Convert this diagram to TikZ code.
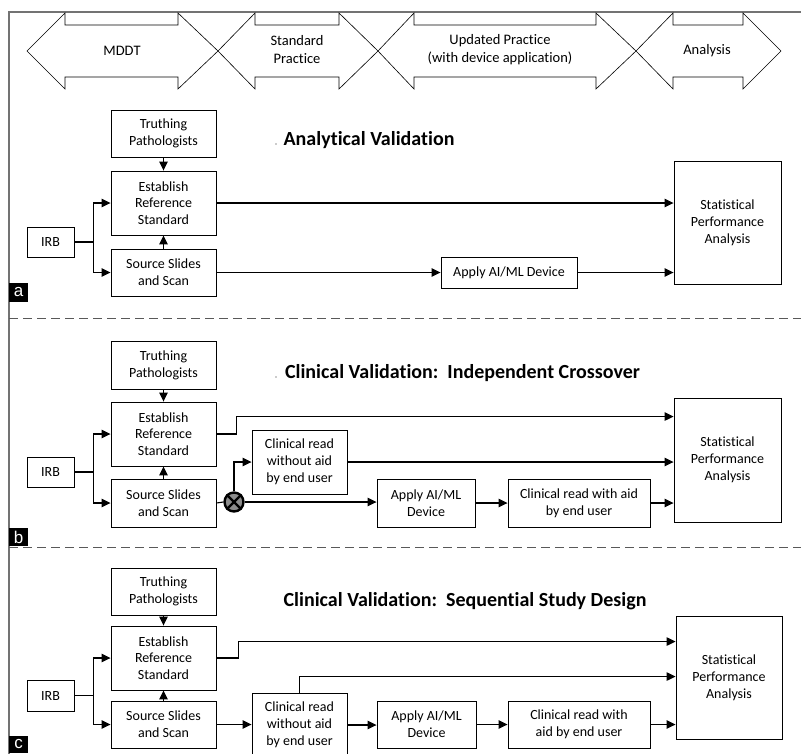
\documentclass[tikz,border=0pt]{standalone}
\usepackage{fontspec}
\setmainfont{Carlito}[Ligatures={NoCommon}]
\newfontfamily\labfont{Liberation Sans}
\usetikzlibrary{arrows.meta,calc}
\begin{document}
\begin{tikzpicture}[x=1pt,y=-1pt,
  bx/.style={draw,line width=0.9pt,align=center,inner sep=0pt,font=\fontsize{14}{16.8}\selectfont},
  arr/.style={line width=1.1pt,-{Triangle[length=9pt,width=8.5pt]}},
  ln/.style={line width=1.1pt},
  bigarrow/.style={draw,line width=0.6pt},
  toptxt/.style={align=center,font=\fontsize{14.5}{18}\selectfont},
  ttl/.style={font=\fontsize{20}{24}\selectfont\bfseries},
  lab/.style={fill=black,text=white,inner sep=0pt,minimum width=19pt,minimum height=19pt,font=\labfont\fontsize{17}{17}\selectfont},
  sep/.style={draw=black!65,line width=1.5pt,dash pattern=on 9pt off 5pt},
  frame/.style={draw=black!55,line width=1.2pt}
]
\useasboundingbox (0,0) rectangle (801,753);
\clip (0,0) rectangle (801,753);
\fill[white] (0,0) rectangle (801,753);
% frame
\draw[frame] (801,12) -- (9,12) -- (9,760);
% top arrows
\draw[bigarrow] (27,51) -- (65,13) -- (65,25) -- (178,25) -- (178,13) -- (218,51) -- (178,89) -- (178,77) -- (65,77) -- (65,89) -- cycle;
\draw[bigarrow] (218,51) -- (255,13) -- (255,25) -- (339,25) -- (339,13) -- (378,51) -- (339,89) -- (339,77) -- (255,77) -- (255,89) -- cycle;
\draw[bigarrow] (378,51) -- (414,13) -- (414,25) -- (596,25) -- (596,13) -- (636,51) -- (596,89) -- (596,77) -- (414,77) -- (414,89) -- cycle;
\draw[bigarrow] (636,51) -- (673,13) -- (673,25) -- (743,25) -- (743,13) -- (781,51) -- (743,89) -- (743,77) -- (673,77) -- (673,89) -- cycle;
\node[toptxt] (tMDDT) at (122,51) {MDDT};
\node[toptxt] (tStd) at (297,50) {Standard\\Practice};
\node[toptxt] (tUpd) at (500,50) {Updated Practice\\(with device application)};
\node[toptxt] (tAna) at (707,51) {Analysis};

% ================= panel a
\node[ttl] (ttlA) at (369,140) {Analytical Validation};
\fill[black!40] (276,144) circle (0.8);
\node[bx,minimum width=105pt,minimum height=47pt] (tpA) at (163.5,133.5) {Truthing\\Pathologists};
\node[bx,minimum width=105pt,minimum height=64pt] (esA) at (163.5,203) {Establish\\Reference\\Standard};
\node[bx,minimum width=105pt,minimum height=47pt] (ssA) at (163.5,272.5) {Source Slides\\and Scan};
\node[bx,minimum width=47pt,minimum height=30pt] (irbA) at (50.5,242) {IRB};
\node[bx,minimum width=136pt,minimum height=31pt] (apA) at (509,272.5) {Apply AI/ML Device};
\node[bx,minimum width=107pt,minimum height=123pt] (stA) at (727.5,222.5) {Statistical\\Performance\\Analysis};
\draw[arr] (tpA.south) -- (esA.north);
\draw[arr] (ssA.north) -- (esA.south);
\draw[arr] (irbA.east) -- ++(19,0) |- (esA.west);
\draw[arr] (irbA.east) -- ++(19,0) |- (ssA.west);
\draw[arr] (esA.east) -- (esA.east -| stA.west);
\draw[arr] (ssA.east) -- (apA.west);
\draw[arr] (apA.east) -- (apA.east -| stA.west);
\node[lab] (labA) at (18.5,292) {a};
\draw[sep] (9,318.5) -- (801,318.5);

% ================= panel b
\node[ttl] (ttlB) at (462.5,373) {Clinical Validation:\ \ Independent Crossover};
\fill[black!40] (276,377) circle (0.8);
\node[bx,minimum width=105pt,minimum height=48pt] (tpB) at (163.5,365) {Truthing\\Pathologists};
\node[bx,minimum width=105pt,minimum height=64pt] (esB) at (163.5,434) {Establish\\Reference\\Standard};
\node[bx,minimum width=105pt,minimum height=48pt] (ssB) at (163.5,503) {Source Slides\\and Scan};
\node[bx,minimum width=47pt,minimum height=30pt] (irbB) at (50.5,472) {IRB};
\node[bx,minimum width=95pt,minimum height=64pt] (cwoB) at (299.5,462) {Clinical read\\without aid\\by end user};
\node[bx,minimum width=98pt,minimum height=48pt] (apB) at (426,503) {Apply AI/ML\\Device};
\node[bx,minimum width=142pt,minimum height=48pt] (cwB) at (579,503) {Clinical read with aid\\by end user};
\node[bx,minimum width=107pt,minimum height=124pt] (stB) at (727.5,460) {Statistical\\Performance\\Analysis};
\node[circle,draw=black,line width=2.4pt,fill=black!45,minimum size=19pt,inner sep=0pt] (xB) at (234,502) {};
\draw[line width=2.4pt] (xB.north west) -- (xB.south east) (xB.north east) -- (xB.south west);
\draw[arr] (tpB.south) -- (esB.north);
\draw[arr] (ssB.north) -- (esB.south);
\draw[arr] (irbB.east) -- ++(19,0) |- (esB.west);
\draw[arr] (irbB.east) -- ++(19,0) |- (ssB.west);
\draw[arr] (esB.east) -- ++(20,0) |- ([yshift=-19pt]stB.north west);
\draw[arr] (cwoB.east) -- (cwoB.east -| stB.west);
\draw[ln] (ssB.east) -- (xB.west);
\draw[arr] (xB.north) |- (cwoB.west);
\draw[arr] (xB.east) -- (xB.east -| apB.west);
\draw[arr] (apB.east) -- (cwB.west);
\draw[arr] (cwB.east) -- (cwB.east -| stB.west);
\node[lab,minimum height=18pt] (labB) at (18.5,537) {b};
\draw[sep] (9,547.5) -- (801,547.5);

% ================= panel c
\node[ttl] (ttlC) at (465,601) {Clinical Validation:\ \ Sequential Study Design};
\node[bx,minimum width=105pt,minimum height=47pt] (tpC) at (163.5,591.5) {Truthing\\Pathologists};
\node[bx,minimum width=105pt,minimum height=64pt] (esC) at (163.5,658) {Establish\\Reference\\Standard};
\node[bx,minimum width=105pt,minimum height=47pt] (ssC) at (163.5,724.5) {Source Slides\\and Scan};
\node[bx,minimum width=47pt,minimum height=31pt] (irbC) at (50.5,695.5) {IRB};
\node[bx,minimum width=95pt,minimum height=64pt] (cwoC) at (299.5,725) {Clinical read\\without aid\\by end user};
\node[bx,minimum width=99pt,minimum height=47pt] (apC) at (426.5,724.5) {Apply AI/ML\\Device};
\node[bx,minimum width=142pt,minimum height=47pt] (cwC) at (579,724.5) {Clinical read with\\aid by end user};
\node[bx,minimum width=106pt,minimum height=123pt] (stC) at (729,677.5) {Statistical\\Performance\\Analysis};
\draw[arr] (tpC.south) -- (esC.north);
\draw[arr] (ssC.north) -- (esC.south);
\draw[arr] (irbC.east) -- ++(19,0) |- (esC.west);
\draw[arr] (irbC.east) -- ++(19,0) |- (ssC.west);
\draw[arr] (esC.east) -- ++(22,0) |- ([yshift=-26pt]stC.north west);
\draw[arr] (cwoC.north) |- ([yshift=-61pt]stC.north west);
\draw[arr] (ssC.east) -- (ssC.east -| cwoC.west);
\draw[arr] (cwoC.east) -- (cwoC.east -| apC.west);
\draw[arr] (apC.east) -- (cwC.west);
\draw[arr] (cwC.east) -- (cwC.east -| stC.west);
\node[lab,minimum height=17pt] (labC) at (18.5,744) {c};
\end{tikzpicture}
\end{document}
